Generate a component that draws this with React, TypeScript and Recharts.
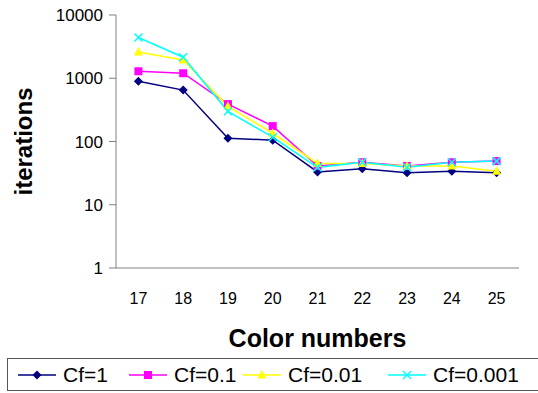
import { LineChart, Line, XAxis, YAxis } from "recharts";

const colorNumbers = [17, 18, 19, 20, 21, 22, 23, 24, 25];
const cf1 = [900, 650, 113, 105, 33, 37, 32, 34, 32];
const cf01 = [1290, 1200, 390, 175, 41, 47, 41, 47, 49];
const cf001 = [2600, 1950, 360, 135, 45, 45, 41, 41, 34];
const cf0001 = [4400, 2150, 300, 117, 39, 47, 39, 47, 49];
const yTicks = [1, 10, 100, 1000, 10000];

const series = [
  { key: "cf1", name: "Cf=1", values: cf1, color: "#000080", shape: "diamond" },
  { key: "cf01", name: "Cf=0.1", values: cf01, color: "#FF00FF", shape: "square" },
  { key: "cf001", name: "Cf=0.01", values: cf001, color: "#FFFF00", shape: "triangle" },
  { key: "cf0001", name: "Cf=0.001", values: cf0001, color: "#00FFFF", shape: "cross" },
];

// left edge of each legend entry inside the box
const legendSlots = [10, 121, 235, 380];

const data = colorNumbers.map((c, i) => ({
  x: c,
  cf1: cf1[i],
  cf01: cf01[i],
  cf001: cf001[i],
  cf0001: cf0001[i],
}));

const boundaryTicks = [...colorNumbers.map((c) => c - 0.5), colorNumbers[colorNumbers.length - 1] + 0.5];
const FONT = "'Liberation Sans', Arial, sans-serif";

function Marker({ cx, cy, shape, color }: { cx: number; cy: number; shape: string; color: string }) {
  if (cx == null || cy == null) return null;
  if (shape === "diamond") {
    return <polygon points={`${cx},${cy - 4.5} ${cx + 4.5},${cy} ${cx},${cy + 4.5} ${cx - 4.5},${cy}`} fill={color} />;
  }
  if (shape === "square") {
    return <rect x={cx - 4} y={cy - 4} width={8} height={8} fill={color} />;
  }
  if (shape === "triangle") {
    return <polygon points={`${cx},${cy - 5} ${cx + 4.5},${cy + 3.5} ${cx - 4.5},${cy + 3.5}`} fill={color} />;
  }
  return (
    <g stroke={color} strokeWidth={1.5}>
      <line x1={cx - 4} y1={cy - 4} x2={cx + 4} y2={cy + 4} />
      <line x1={cx - 4} y1={cy + 4} x2={cx + 4} y2={cy - 4} />
    </g>
  );
}

function LegendBox() {
  return (
    <div
      style={{
        position: "absolute",
        left: 7,
        top: 358,
        width: 540,
        height: 33,
        border: "1px solid #555",
        boxSizing: "border-box",
        fontFamily: FONT,
        fontSize: 21,
        color: "#000",
      }}
    >
      {series.map((s, i) => (
        <div
          key={s.key}
          style={{ position: "absolute", left: legendSlots[i], top: 0, height: 31, display: "flex", alignItems: "center", whiteSpace: "nowrap" }}
        >
          <svg width={38} height={12} style={{ marginRight: 7 }}>
            <line x1={0} y1={6} x2={38} y2={6} stroke={s.color} strokeWidth={1.5} />
            <Marker cx={19} cy={6} shape={s.shape} color={s.color} />
          </svg>
          <span>{s.name}</span>
        </div>
      ))}
    </div>
  );
}

export default function App() {
  return (
    <div style={{ position: "absolute", left: 0, top: 0, width: 538, height: 393, background: "#fff", overflow: "hidden" }}>
      <LineChart width={538} height={393} data={data} margin={{ top: 15, right: 19, bottom: 36, left: 0 }}>
        <XAxis
          xAxisId="b"
          dataKey="x"
          type="number"
          domain={[16.5, 25.5]}
          ticks={boundaryTicks}
          tick={false}
          tickSize={6}
          height={6}
          stroke="#808080"
        />
        <XAxis
          xAxisId="l"
          dataKey="x"
          type="number"
          domain={[16.5, 25.5]}
          ticks={colorNumbers}
          axisLine={false}
          tickLine={false}
          tickSize={0}
          tickMargin={19}
          height={83}
          tick={{ fontSize: 16, fill: "#000", fontFamily: FONT }}
          label={{
            value: "Color numbers",
            position: "insideBottom",
            offset: 10,
            style: { fontSize: 25, fontWeight: "bold", fill: "#000", fontFamily: FONT },
          }}
        />
        <YAxis
          scale="log"
          domain={[1, 10000]}
          ticks={yTicks}
          allowDataOverflow
          width={116}
          tickSize={7}
          tickMargin={6}
          stroke="#808080"
          tick={{ fontSize: 17, fill: "#000", fontFamily: FONT }}
          label={{
            value: "iterations",
            angle: -90,
            position: "insideLeft",
            offset: 23,
            style: { textAnchor: "middle", fontSize: 24, fontWeight: "bold", fill: "#000", fontFamily: FONT },
          }}
        />
        {series.map((s) => (
          <Line
            key={s.key}
            xAxisId="b"
            dataKey={s.key}
            name={s.name}
            stroke={s.color}
            strokeWidth={1.5}
            isAnimationActive={false}
            dot={(p: any) => <Marker key={`${s.key}-${p.index}`} cx={p.cx} cy={p.cy} shape={s.shape} color={s.color} />}
            activeDot={false}
          />
        ))}
      </LineChart>
      <LegendBox />
    </div>
  );
}
